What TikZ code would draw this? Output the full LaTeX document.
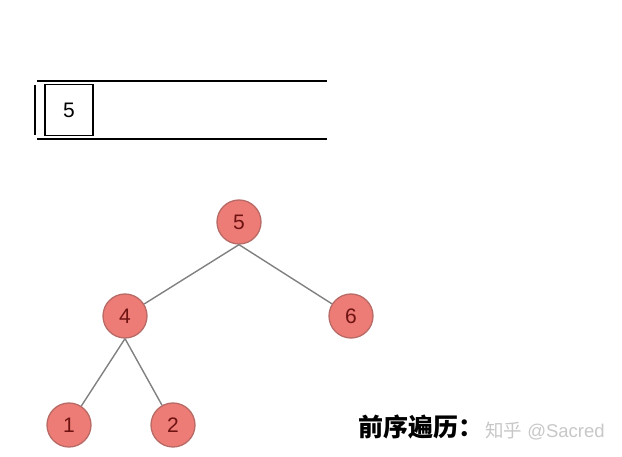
\documentclass[tikz,border=0pt]{standalone}
\usepackage{fontspec}
\setmainfont{Liberation Sans}
\newfontfamily\cjk{Noto Sans CJK SC}
\definecolor{nodefill}{HTML}{EE7C76}
\definecolor{nodeborder}{HTML}{B86A66}
\definecolor{nodetext}{HTML}{6E1212}
\definecolor{edgecol}{HTML}{808080}
\begin{document}
\begin{tikzpicture}[x=1pt,y=-1pt,
  tnode/.style={circle,draw=nodeborder,line width=1.3pt,fill=nodefill,minimum size=44pt,inner sep=0pt,text=nodetext,font=\fontsize{21}{21}\selectfont},
  tedge/.style={draw=edgecol,line width=1.4pt},
  stackline/.style={line width=2.8pt,black},
  cell/.style={draw=black,line width=1.1pt,minimum width=48pt,minimum height=51pt,inner sep=0pt,font=\fontsize{21}{21}\selectfont}]
\useasboundingbox (0,0) rectangle (622,457);
% stack
\coordinate (tl) at (37,81);
\coordinate (tr) at (327,81);
\coordinate (bl) at (37,139);
\coordinate (br) at (327,139);
\coordinate (vt) at (35,85);
\coordinate (vb) at (35,135);
\draw[stackline] (tl) -- (tr);
\draw[stackline] (bl) -- (br);
\draw[stackline] (vt) -- (vb);
\node[cell] (c1) at (69,110) {5};
% tree
\node[tnode] (a5) at (239,222) {5};
\node[tnode] (a4) at (125,316) {4};
\node[tnode] (a6) at (351,316) {6};
\node[tnode] (a1) at (69,425) {1};
\node[tnode] (a2) at (173,425) {2};
\path[tedge] (a5.south) -- (a4);
\path[tedge] (a5.south) -- (a6);
\path[tedge] (a4.south) -- (a1);
\path[tedge] (a4.south) -- (a2);
% labels
\node[anchor=west,inner sep=0pt,font=\cjk\bfseries\fontsize{25}{25}\selectfont] (lbl) at (358,427) {前序遍历：};
\node[anchor=west,inner sep=0pt,text=black!22,font=\fontsize{18.5}{18.5}\selectfont] (wm) at (485,431) {{\cjk 知乎} @Sacred};
\end{tikzpicture}
\end{document}
